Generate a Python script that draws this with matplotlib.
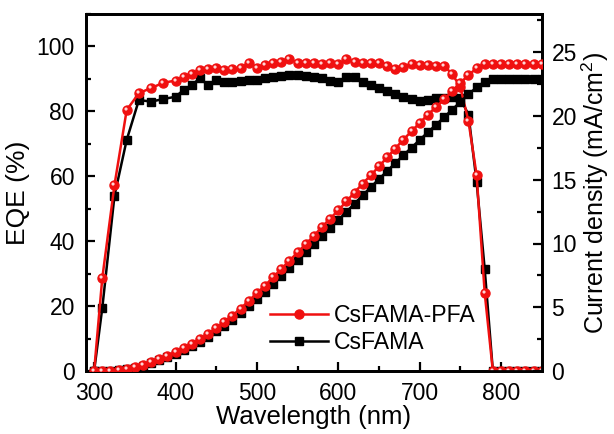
import matplotlib
matplotlib.use('Agg')
import matplotlib.pyplot as plt
from matplotlib.path import Path
from matplotlib.ticker import MultipleLocator

plt.rcParams['font.family'] = ['Liberation Sans', 'DejaVu Sans']
plt.rcParams['mathtext.fontset'] = 'custom'
plt.rcParams['mathtext.rm'] = 'Liberation Sans'
plt.rcParams['mathtext.it'] = 'Liberation Sans'

# EQE spectra (%)
wl_eqe = [300, 310, 325, 340, 355, 370, 385, 400] + list(range(410, 851, 10))
eqe_pfa = [0, 28.6, 57.3, 80.4, 85.6, 87.2, 88.8, 89.5,
           90.5, 91.5, 92.8, 93.1, 93.5, 92.8, 93.1, 93.5, 94.8, 93.5,
           94.3, 95.0, 95.3, 96.1, 95.0, 94.8, 94.8, 94.6, 95.0, 94.5,
           96.0, 95.3, 94.8, 95.0, 94.8, 94.0, 93.0, 93.8, 94.6, 94.3,
           94.3, 94.0, 94.0, 91.5, 87.5, 77.0, 60.4, 23.9, 0,
           0, 0, 0, 0, 0, 0]
eqe_ref = [0, 19.4, 54.0, 71.2, 83.5, 83.0, 83.8, 84.5,
           86.6, 88.1, 90.2, 88.1, 89.7, 89.2, 89.2, 89.5, 89.7, 89.7,
           90.2, 90.5, 90.9, 91.2, 91.2, 91.0, 90.7, 90.2, 89.5, 89.2,
           90.5, 90.7, 89.2, 88.1, 87.1, 86.4, 85.4, 84.5, 83.7, 83.3,
           83.5, 84.0, 84.0, 84.5, 84.0, 79.0, 58.3, 31.3, 0,
           0, 0, 0, 0, 0, 0]

# integrated current density (mA/cm2)
wl_j = list(range(300, 851, 10))
j_pfa = [0, 0.0, 0.02, 0.05, 0.15, 0.3, 0.5, 0.72, 0.95, 1.2,
         1.5, 1.8, 2.15, 2.5, 2.9, 3.35, 3.85, 4.35, 4.9, 5.5,
         6.1, 6.7, 7.35, 8.0, 8.65, 9.3, 9.95, 10.6, 11.3, 11.95,
         12.6, 13.3, 14.0, 14.7, 15.35, 16.05, 16.75, 17.45, 18.15, 18.8,
         19.45, 20.1, 20.7, 21.3, 21.95, 22.6, 23.2, 23.75, 24.05, 24.1,
         24.1, 24.1, 24.1, 24.1, 24.1, 24.1]
j_ref = [0, 0.0, 0.01, 0.04, 0.12, 0.25, 0.42, 0.62, 0.83, 1.07,
         1.33, 1.62, 1.95, 2.3, 2.68, 3.1, 3.55, 4.03, 4.55, 5.1,
         5.65, 6.23, 6.83, 7.45, 8.08, 8.7, 9.32, 9.95, 10.58, 11.2,
         11.83, 12.48, 13.13, 13.78, 14.42, 15.05, 15.68, 16.3, 16.92, 17.52,
         18.12, 18.72, 19.3, 19.9, 20.5, 21.1, 21.7, 22.25, 22.7, 22.9,
         22.9, 22.9, 22.9, 22.9, 22.9, 22.9]

RED = '#f01010'

# small off-centre glint that gives the red balls a shaded look
glint = Path.circle(center=(-0.25, 0.25), radius=0.15)

fig = plt.figure(figsize=(6.14, 4.34), dpi=100)
ax = fig.add_axes([86 / 614, 63 / 434, 455.7 / 614, 357 / 434])
ax2 = ax.twinx()


def draw_pair(a, x, y_ref, y_pfa, lab=True):
    # black first so the red series sits on top
    a.plot(x, y_ref, color='black', lw=1.8, marker='s', ms=5.5,
           label='CsFAMA' if lab else None, zorder=3)
    a.plot(x, y_pfa, color=RED, lw=1.8, marker='o', ms=6.5,
           label='CsFAMA-PFA' if lab else None, zorder=4)
    a.plot(x, y_pfa, ls='none', marker=glint, ms=3.4, color='#ffd6d6',
           zorder=5)


draw_pair(ax, wl_eqe, eqe_ref, eqe_pfa)
draw_pair(ax2, wl_j, j_ref, j_pfa, lab=False)

ax.set_xlim(290, 850)
ax.set_ylim(0, 110)
ax2.set_ylim(0, 28)

ax.xaxis.set_major_locator(MultipleLocator(100))
ax.xaxis.set_minor_locator(MultipleLocator(50))
ax.yaxis.set_major_locator(MultipleLocator(20))
ax.yaxis.set_minor_locator(MultipleLocator(10))
ax2.yaxis.set_major_locator(MultipleLocator(5))
ax2.yaxis.set_minor_locator(MultipleLocator(2.5))

for a in (ax, ax2):
    for s in a.spines.values():
        s.set_linewidth(2)
    a.tick_params(which='major', direction='in', length=6.5, width=1.6,
                  labelsize=16.5, pad=8)
    a.tick_params(which='minor', direction='in', length=3.5, width=1.6)
ax.tick_params(axis='x', which='both', top=False)
ax2.tick_params(axis='y', which='major', pad=7)

ax.set_xlabel('Wavelength (nm)', fontsize=18.5, labelpad=0)
ax.set_ylabel('EQE (%)', fontsize=19, labelpad=5)
ax2.set_ylabel('Current density (mA/cm$^2$)', fontsize=18, labelpad=2)

handles, labels = ax.get_legend_handles_labels()
ax.legend(handles[::-1], labels[::-1], loc='center left',
          bbox_to_anchor=(0.404, 0.118), frameon=False, fontsize=16.6,
          handlelength=2.5, handletextpad=0.25, labelspacing=0.15,
          borderpad=0, borderaxespad=0)

fig.savefig('out.png', dpi=100)
